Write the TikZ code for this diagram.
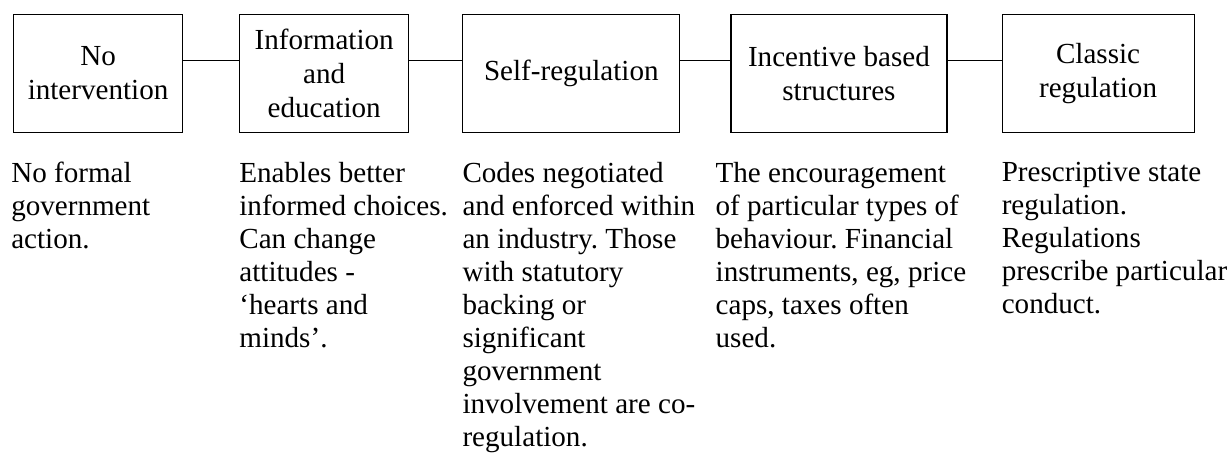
\documentclass[tikz,border=0pt]{standalone}
\usepackage{fontspec}
\setmainfont{Liberation Serif}
\frenchspacing
\usetikzlibrary{positioning}

\begin{document}
\begin{tikzpicture}[
    node distance=1.35cm,
    stage/.style={rectangle, draw=black, line width=0.8pt, minimum height=2.95cm, inner sep=2pt, align=center, font=\fontsize{20.7}{24.2}\selectfont},
    detail/.style={inner sep=0pt, align=left, font=\fontsize{20.7}{23.5}\selectfont},
    link/.style={line width=0.8pt}
]

    \useasboundingbox (0,0) rectangle (30.7,-11.4);

    % Stages
    \node (none) [stage, minimum width=4.225cm, anchor=north west] at (0.325,-0.35) {No\\intervention};
    \node (info) [stage, minimum width=4.225cm, right=1.4cm of none] {Information\\and\\education};
    \node (selfreg) [stage, minimum width=5.425cm, right=1.325cm of info] {Self-regulation};
    \node (incentive) [stage, minimum width=5.4cm, right=1.25cm of selfreg] {Incentive based\\structures};
    \node (classic) [stage, minimum width=4.8cm, right=1.35cm of incentive] {Classic\\regulation};

    % Descriptions
    \node (noneText) [detail, below=0.72cm of none.south west, anchor=north west, xshift=-0.05cm] {No formal\\government\\action.};
    \node (infoText) [detail, below=0.72cm of info.south west, anchor=north west] {Enables better\\informed choices.\\Can change\\attitudes -\\‘hearts and\\minds’.};
    \node (selfregText) [detail, below=0.72cm of selfreg.south west, anchor=north west] {Codes negotiated\\and enforced within\\an industry. Those\\with statutory\\backing or\\significant\\government\\involvement are co-\\regulation.};
    \node (incentiveText) [detail, below=0.72cm of incentive.south west, anchor=north west, xshift=-0.375cm] {The encouragement\\of particular types of\\behaviour. Financial\\instruments, eg, price\\caps, taxes often\\used.};
    \node (classicText) [detail, below=0.72cm of classic.south west, anchor=north west] {Prescriptive state\\regulation.\\Regulations\\prescribe particular\\conduct.};

    % Links
    \draw [link] ([yshift=0.325cm]none.east) -- ([yshift=0.325cm]info.west);
    \draw [link] ([yshift=0.325cm]info.east) -- ([yshift=0.325cm]selfreg.west);
    \draw [link] ([yshift=0.325cm]selfreg.east) -- ([yshift=0.325cm]incentive.west);
    \draw [link] ([yshift=0.325cm]incentive.east) -- ([yshift=0.325cm]classic.west);

\end{tikzpicture}
\end{document}
